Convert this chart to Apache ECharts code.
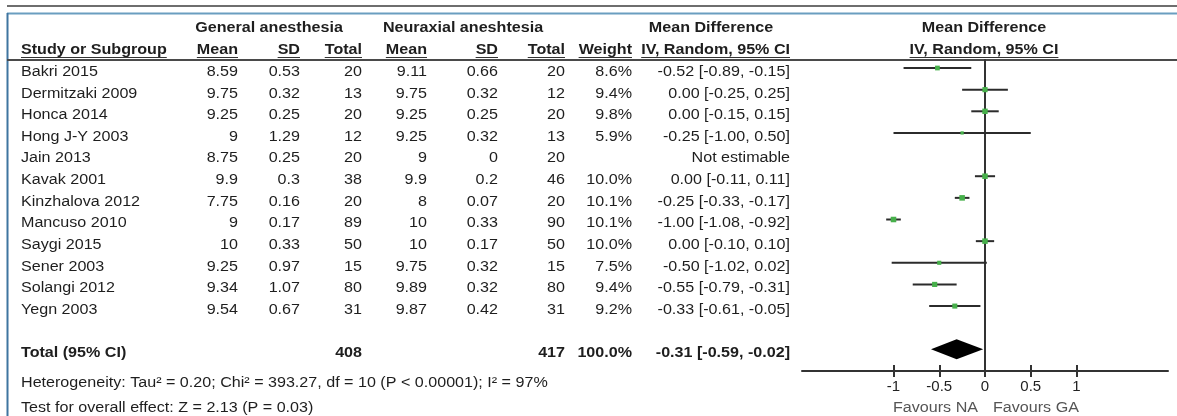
<!DOCTYPE html>
<html><head><meta charset="utf-8">
<script src="https://cdn.jsdelivr.net/npm/echarts@6/dist/echarts.min.js"></script>
<style>html,body{margin:0;padding:0;background:#fff}#c{width:1177px;height:416px}</style>
</head><body><div id="c"></div>
<script>
// ---------- data ----------
const studies = ['Bakri 2015','Dermitzaki 2009','Honca 2014','Hong J-Y 2003','Jain 2013','Kavak 2001','Kinzhalova 2012','Mancuso 2010','Saygi 2015','Sener 2003','Solangi 2012','Yegn 2003'];
const gaMean  = [8.59, 9.75, 9.25, 9, 8.75, 9.9, 7.75, 9, 10, 9.25, 9.34, 9.54];
const gaSD    = [0.53, 0.32, 0.25, 1.29, 0.25, 0.3, 0.16, 0.17, 0.33, 0.97, 1.07, 0.67];
const gaTotal = [20, 13, 20, 12, 20, 38, 20, 89, 50, 15, 80, 31];
const naMean  = [9.11, 9.75, 9.25, 9.25, 9, 9.9, 8, 10, 10, 9.75, 9.89, 9.87];
const naSD    = [0.66, 0.32, 0.25, 0.32, 0, 0.2, 0.07, 0.33, 0.17, 0.32, 0.32, 0.42];
const naTotal = [20, 12, 20, 13, 20, 46, 20, 90, 50, 15, 80, 31];
const weight  = [8.6, 9.4, 9.8, 5.9, null, 10.0, 10.1, 10.1, 10.0, 7.5, 9.4, 9.2];
const md      = [-0.52, 0.00, 0.00, -0.25, null, 0.00, -0.25, -1.00, 0.00, -0.50, -0.55, -0.33];
const ciLow   = [-0.89, -0.25, -0.15, -1.00, null, -0.11, -0.33, -1.08, -0.10, -1.02, -0.79, -0.61];
const ciHigh  = [-0.15, 0.25, 0.15, 0.50, null, 0.11, -0.17, -0.92, 0.10, 0.02, -0.31, -0.05];
const totalGA = 408;
const totalNA = 417;
const totalWeight = 100.0;
const pooled = [-0.31, -0.59, -0.02]; // estimate, low, high
const xTicks = [-1, -0.5, 0, 0.5, 1];
const heterogeneityText = 'Heterogeneity: Tau\u00B2 = 0.20; Chi\u00B2 = 393.27, df = 10 (P < 0.00001); I\u00B2 = 97%';
const overallText = 'Test for overall effect: Z = 2.13 (P = 0.03)';

// ---------- layout / style ----------
const FAM = '"Liberation Sans", Arial, sans-serif';
const FS = 14, SX = 1.15, TXT = '#1e1e1e';
const FONT = FS + 'px ' + FAM, BFONT = 'bold ' + FS + 'px ' + FAM;
const TOP = 60, H = 311, YMIN = -0.37, YMAX = 14;
const TEXT_DY = 4;
const COLS = [
  {x: 21, align: 'left'}, {x: 238, align: 'right'}, {x: 300, align: 'right'}, {x: 362, align: 'right'},
  {x: 427, align: 'right'}, {x: 498, align: 'right'}, {x: 565, align: 'right'}, {x: 632, align: 'right'},
  {x: 790, align: 'right'}
];
const TOTAL_ROW = studies.length + 1;

const fmtCI = (m, l, h) => m.toFixed(2) + ' [' + l.toFixed(2) + ', ' + h.toFixed(2) + ']';

function rowCells(i) {
  if (i < studies.length) {
    return [studies[i], String(gaMean[i]), String(gaSD[i]), String(gaTotal[i]),
      String(naMean[i]), String(naSD[i]), String(naTotal[i]),
      weight[i] == null ? '' : weight[i].toFixed(1) + '%',
      md[i] == null ? 'Not estimable' : fmtCI(md[i], ciLow[i], ciHigh[i])];
  }
  return ['Total (95% CI)', '', '', String(totalGA), '', '', String(totalNA),
    totalWeight.toFixed(1) + '%', fmtCI(pooled[0], pooled[1], pooled[2])];
}

function txt(text, x, y, align, font, fill) {
  return {type: 'text', x: x, y: y, scaleX: SX, silent: true,
    style: {text: text, font: font || FONT, fill: fill || TXT, align: align, verticalAlign: 'middle',
            textAlign: align, textVerticalAlign: 'middle'}};
}

const tableData = studies.map((s, i) => [0, i]).concat([[0, TOTAL_ROW]]);
const ciData = [], pointData = [];
studies.forEach((s, i) => {
  if (md[i] == null) return;
  ciData.push([ciLow[i], ciHigh[i], i]);
  pointData.push({value: [md[i], i], symbolSize: weight[i] * 0.55});
});

const chart = echarts.init(document.getElementById('c'), null, {renderer: 'canvas'});
chart.setOption({
  animation: false,
  textStyle: {fontFamily: FAM},
  grid: [
    {left: 0, width: 800, top: TOP, height: H},
    {left: 802, width: 366, top: TOP, height: H}
  ],
  xAxis: [
    {gridIndex: 0, type: 'value', min: 0, max: 800, show: false},
    {gridIndex: 1, type: 'value', min: -2, max: 2, interval: 0.5, position: 'bottom',
      axisLine: {show: true, onZero: false, lineStyle: {color: '#333', width: 2}},
      axisTick: {show: true, inside: false, length: 6, customValues: xTicks, lineStyle: {color: '#333', width: 2}},
      axisLabel: {show: true, customValues: xTicks, color: '#222', fontSize: 15, margin: 8, fontFamily: FAM},
      splitLine: {show: false}},
    {gridIndex: 1, type: 'value', min: -2, max: 2, interval: 0.5, position: 'bottom',
      axisLine: {show: false, onZero: false},
      axisTick: {show: true, inside: true, length: 6, customValues: xTicks, lineStyle: {color: '#333', width: 2}},
      axisLabel: {show: false}, splitLine: {show: false}}
  ],
  yAxis: [
    {gridIndex: 0, type: 'value', inverse: true, min: YMIN, max: YMAX, show: false},
    {gridIndex: 1, type: 'value', inverse: true, min: YMIN, max: YMAX,
      axisLine: {show: true, onZero: true, lineStyle: {color: '#333', width: 2}},
      axisTick: {show: false}, axisLabel: {show: false}, splitLine: {show: false}}
  ],
  series: [
    {type: 'custom', xAxisIndex: 0, yAxisIndex: 0, data: tableData, silent: true,
      encode: {x: 0, y: 1},
      renderItem: function (params, api) {
        const row = api.value(1);
        const y = api.coord([0, row])[1] + TEXT_DY;
        const isTotal = row === TOTAL_ROW;
        const cells = rowCells(isTotal ? studies.length : params.dataIndex);
        return {type: 'group', children: cells.map((c, k) =>
          txt(c, COLS[k].x, y, COLS[k].align, isTotal ? BFONT : FONT))};
      }},
    {type: 'custom', xAxisIndex: 1, yAxisIndex: 1, data: ciData, silent: true,
      encode: {x: [0, 1], y: 2},
      renderItem: function (params, api) {
        const p1 = api.coord([api.value(0), api.value(2)]);
        const p2 = api.coord([api.value(1), api.value(2)]);
        return {type: 'line', shape: {x1: p1[0], y1: p1[1], x2: p2[0], y2: p2[1]},
          style: {stroke: '#2b2b2b', lineWidth: 2}};
      }},
    {type: 'scatter', xAxisIndex: 1, yAxisIndex: 1, data: pointData, symbol: 'rect', silent: true,
      itemStyle: {color: '#47b04b', opacity: 1}, z: 5},
    {type: 'custom', xAxisIndex: 1, yAxisIndex: 1, data: [[pooled[1], pooled[0], pooled[2], TOTAL_ROW]], silent: true,
      encode: {x: [0, 1, 2], y: 3},
      renderItem: function (params, api) {
        const r = api.value(3);
        const l = api.coord([api.value(0), r]);
        const m = api.coord([api.value(1), r]);
        const h = api.coord([api.value(2), r]);
        const hh = 10;
        return {type: 'polygon', shape: {points: [[l[0], l[1]], [m[0], m[1] - hh], [h[0], h[1]], [m[0], m[1] + hh]]},
          style: {fill: '#000'}};
      }}
  ]
});

// ---------- static decorations & headers ----------
const zeroX = chart.convertToPixel({xAxisIndex: 1}, 0);
const mctx = document.createElement('canvas').getContext('2d');
function width(t, f) { mctx.font = f; return mctx.measureText(t).width * SX; }

const g = [];
function line(x1, y1, x2, y2, color, w) {
  g.push({type: 'line', silent: true, shape: {x1: x1, y1: y1, x2: x2, y2: y2}, style: {stroke: color, lineWidth: w}});
}
line(7, 6, 1177, 6, '#6e6e6e', 2);
line(7, 13.5, 1177, 13.5, '#6a9ec0', 2);
line(7.5, 13, 7.5, 416, '#3f75a0', 2);
line(7, 60, 1177, 60, '#4a4a4a', 2);

const H1 = 28, H2 = 50;
const centered = [['General anesthesia', 269], ['Neuraxial aneshtesia', 463], ['Mean Difference', 711], ['Mean Difference', 984]];
centered.forEach(([t, cx]) => g.push(txt(t, cx, H1, 'center', BFONT)));
const h2 = [['Study or Subgroup', 0], ['Mean', 1], ['SD', 2], ['Total', 3], ['Mean', 4], ['SD', 5], ['Total', 6], ['Weight', 7], ['IV, Random, 95% CI', 8]];
h2.forEach(([t, k]) => {
  const c = COLS[k];
  g.push(txt(t, c.x, H2, c.align, BFONT));
  const w = width(t, BFONT);
  const x1 = c.align === 'left' ? c.x : c.x - w;
  line(x1, 57.5, x1 + w, 57.5, '#333', 1);
});
{
  const t = 'IV, Random, 95% CI';
  g.push(txt(t, 984, H2, 'center', BFONT));
  const w = width(t, BFONT);
  line(984 - w / 2, 57.5, 984 + w / 2, 57.5, '#333', 1);
}
g.push(txt(heterogeneityText, 21, 383, 'left'));
g.push(txt(overallText, 21, 408, 'left'));
g.push(txt('Favours NA', zeroX - 7, 408, 'right', FONT, '#555'));
g.push(txt('Favours GA', zeroX + 8, 408, 'left', FONT, '#555'));

chart.setOption({graphic: {elements: g}});
</script></body></html>
